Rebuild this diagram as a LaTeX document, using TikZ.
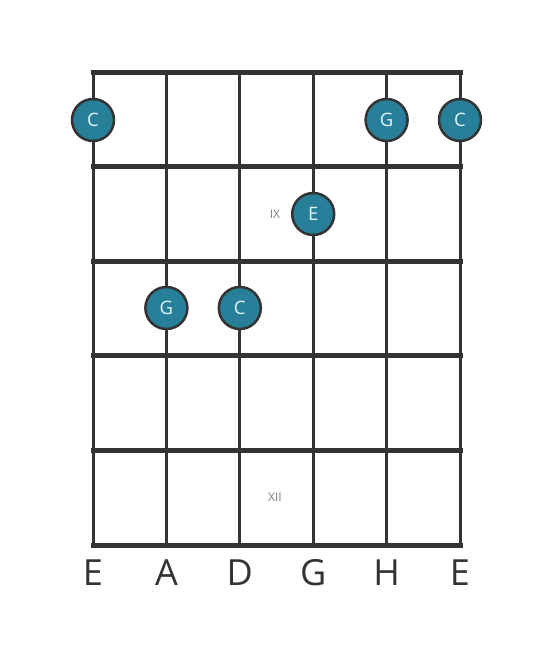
\documentclass[tikz,border=0pt]{standalone}
\usepackage{fontspec}
\setmainfont{Open Sans}
\definecolor{dotfill}{RGB}{40,127,153}
\definecolor{ink}{RGB}{51,51,51}
\definecolor{dottext}{RGB}{225,244,248}
\begin{document}
\begin{tikzpicture}[x=1pt, y=-1pt]
            \tikzstyle{fret} = [line width=5pt, color=ink]
            \tikzstyle{string} = [line width=3pt, color=ink]
            \tikzstyle{dot} = [circle, draw=ink, line width=2.5pt, fill=dotfill, minimum size=42pt, inner sep=0pt, text=dottext, font=\fontsize{18.5}{18.5}\selectfont]
            \tikzstyle{position} = [color=gray, font=\fontsize{12}{12}\selectfont]
            \tikzstyle{tuning} = [color=ink, font=\fontsize{36}{36}\selectfont]
            \useasboundingbox (0, 0) rectangle (553, 656);
            \foreach \x in {93, 166.4, 239.8, 313.2, 386.6, 460} {
                \draw[string] (\x, 72) -- (\x, 545);
            }
            \foreach \y in {72, 166.6, 261.2, 355.8, 450.4, 545} {
                \draw[fret] (90.5, \y) -- (462.5, \y);
            }
            \node[position] (ix) at (275, 214) {IX};
            \node[position] (xii) at (275, 497) {XII};
            \node[dot] (c1) at (93, 120) {C};
            \node[dot] (g1) at (386.6, 120) {G};
            \node[dot] (c2) at (460, 120) {C};
            \node[dot] (e1) at (313.2, 214) {E};
            \node[dot] (g2) at (166.4, 308) {G};
            \node[dot] (c3) at (239.8, 308) {C};
            \foreach \x/\s [count=\i] in {93/E, 166.4/A, 239.8/D, 313.2/G, 386.6/H, 460/E} {
                \node[tuning] (t\i) at (\x, 573) {\s};
            }
        \end{tikzpicture}
\end{document}
